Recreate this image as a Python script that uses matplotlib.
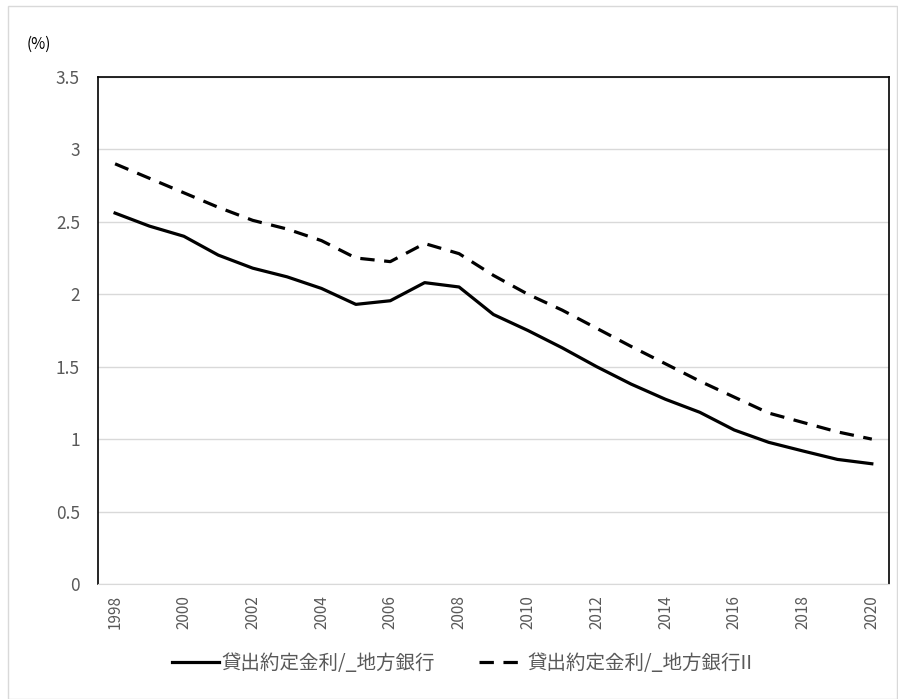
import matplotlib.pyplot as plt
from matplotlib.patches import Rectangle

plt.rcParams['font.family'] = ['Noto Sans CJK JP', 'DejaVu Sans']

years = list(range(1998, 2021))
rate_chigin = [2.56, 2.47, 2.40, 2.27, 2.18, 2.12, 2.04, 1.93, 1.955, 2.08, 2.05,
               1.86, 1.75, 1.63, 1.50, 1.38, 1.275, 1.185, 1.063, 0.978, 0.918, 0.86, 0.83]
rate_chigin2 = [2.90, 2.80, 2.70, 2.60, 2.51, 2.45, 2.37, 2.25, 2.225, 2.35, 2.28,
                2.13, 2.00, 1.89, 1.765, 1.64, 1.52, 1.40, 1.29, 1.18, 1.115, 1.05, 1.00]
label1 = "貸出約定金利/_地方銀行"
label2 = "貸出約定金利/_地方銀行II"
xticks = list(range(1998, 2021, 2))
yticks = [0, 0.5, 1, 1.5, 2, 2.5, 3, 3.5]

fig = plt.figure(figsize=(8.98, 6.99), dpi=100)
ax = fig.add_axes([0.109, 0.1645, 0.881, 0.7255])

ax.plot(years, rate_chigin, color="black", lw=2.3, label=label1)
ax.plot(years, rate_chigin2, color="black", lw=2.3, dashes=(4.5, 3), label=label2)

ax.set_xlim(1997.5, 2020.5)
ax.set_ylim(0, 3.5)
ax.set_yticks(yticks)
ax.set_yticklabels(["0", "0.5", "1", "1.5", "2", "2.5", "3", "3.5"])
ax.set_xticks(xticks)
ax.set_xticklabels([str(y) for y in xticks], rotation=90)
ax.tick_params(length=0, colors="#595959")
ax.tick_params(axis="y", labelsize=12.5, pad=13)
ax.tick_params(axis="x", labelsize=11, pad=8)
ax.grid(axis="y", color="#d9d9d9", lw=1)
ax.set_axisbelow(True)

for s in ["left", "top", "right"]:
    ax.spines[s].set_color("black")
    ax.spines[s].set_linewidth(1.2)
ax.spines["bottom"].set_color("#d9d9d9")

fig.text(0.03, 0.936, "(%)", fontsize=11, color="black", va="center")

ax.legend(loc="center", bbox_to_anchor=(0.461, -0.156), ncol=2, frameon=False,
          fontsize=14, handlelength=2.4, handletextpad=0.1, columnspacing=2.3,
          labelcolor="#595959")

fig.patches.append(Rectangle((0.009, 0.0), 0.99, 0.992, transform=fig.transFigure,
                             fill=False, edgecolor="#d9d9d9", lw=1))

fig.savefig("out.png", dpi=100)
